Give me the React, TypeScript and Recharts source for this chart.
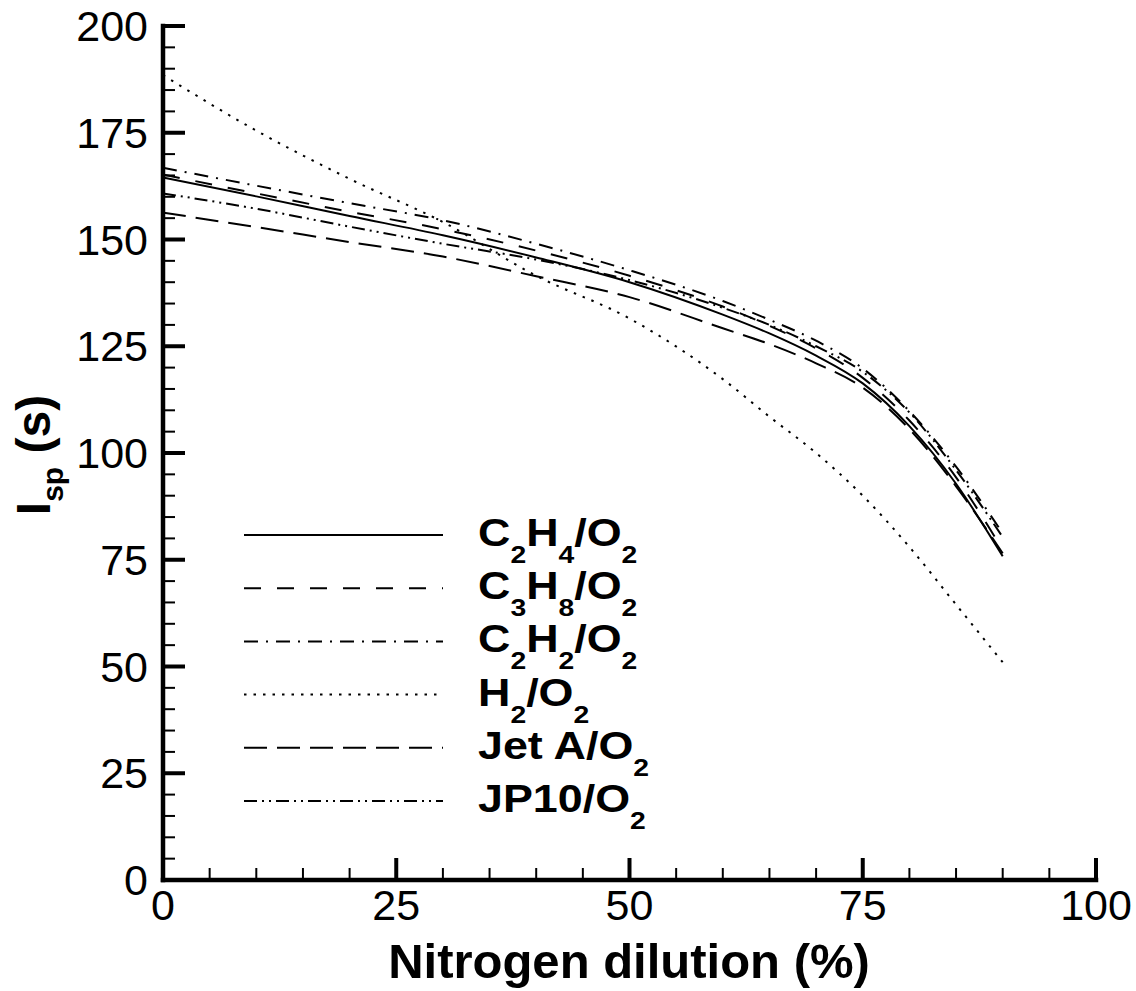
import React from 'react';
import { LineChart, Line, XAxis, YAxis, Customized } from 'recharts';

// nitrogen dilution (%) where the curves were read
const dilution = [0, 10, 20, 30, 40, 50, 60, 65, 70, 75, 80, 85, 90];

// specific impulse (s) per mixture
const c2h4 = [164.5, 160.1, 155.5, 151.0, 145.8, 140.0, 132.4, 128.0, 122.8, 116.3, 106.3, 92.8, 75.8];
const c3h8 = [165.2, 160.8, 156.5, 152.4, 147.4, 141.5, 134.3, 129.8, 124.5, 117.6, 107.6, 94.3, 77.3];
const c2h2 = [166.8, 162.6, 158.5, 154.5, 149.0, 142.8, 135.6, 131.2, 126.3, 119.8, 109.8, 96.8, 81.2];
const h2 = [188.5, 175.5, 164.2, 154.1, 141.5, 131.5, 117.3, 108.5, 100.0, 90.0, 78.0, 64.5, 51.0];
const jetA = [156.3, 152.9, 149.4, 146.0, 141.4, 136.5, 129.2, 125.5, 121.0, 115.3, 105.6, 92.2, 76.5];
const jp10 = [160.8, 157.2, 153.0, 149.0, 145.3, 140.5, 134.0, 130.0, 125.0, 119.0, 109.5, 96.0, 80.3];

const xTicks = [0, 5, 10, 15, 20, 25, 30, 35, 40, 45, 50, 55, 60, 65, 70, 75, 80, 85, 90, 95, 100];
const yTicks = [
  0, 5, 10, 15, 20, 25, 30, 35, 40, 45, 50, 55, 60, 65, 70, 75, 80, 85, 90, 95, 100,
  105, 110, 115, 120, 125, 130, 135, 140, 145, 150, 155, 160, 165, 170, 175, 180, 185, 190, 195, 200,
];

// legend labels, [text, subscript?]
const labels: [string, boolean][][] = [
  [['C', false], ['2', true], ['H', false], ['4', true], ['/O', false], ['2', true]],
  [['C', false], ['3', true], ['H', false], ['8', true], ['/O', false], ['2', true]],
  [['C', false], ['2', true], ['H', false], ['2', true], ['/O', false], ['2', true]],
  [['H', false], ['2', true], ['/O', false], ['2', true]],
  [['Jet A/O', false], ['2', true]],
  [['JP10/O', false], ['2', true]],
];

const series = [
  { key: 'c2h4', values: c2h4, dash: undefined },
  { key: 'c3h8', values: c3h8, dash: '17 16' },
  { key: 'c2h2', values: c2h2, dash: '14 8 2 8' },
  { key: 'h2', values: h2, dash: '2.5 7' },
  { key: 'jetA', values: jetA, dash: '23 10' },
  { key: 'jp10', values: jp10, dash: '13 5 2 5 2 5' },
];

const rows = dilution.map((x, i) => {
  const row: Record<string, number> = { x };
  series.forEach((s) => {
    row[s.key] = s.values[i];
  });
  return row;
});

const FONT = '"Liberation Sans", Arial, Helvetica, sans-serif';
const SUB = 24;
const SUB_DY = 17;

const XTick = (props: any) => {
  const { x, y, payload } = props;
  const major = payload.value % 25 === 0;
  return (
    <g>
      <line x1={x} y1={y} x2={x} y2={y - (major ? 22 : 12)} stroke="#000" strokeWidth={major ? 4 : 2} />
      {major && (
        <text x={x} y={y + 40} textAnchor="middle" fontSize={43} fontFamily={FONT} fill="#000">
          {payload.value}
        </text>
      )}
    </g>
  );
};

const YTick = (props: any) => {
  const { x, y, payload } = props;
  const major = payload.value % 25 === 0;
  return (
    <g>
      <line x1={x} y1={y} x2={x + (major ? 22 : 12)} y2={y} stroke="#000" strokeWidth={major ? 4 : 2} />
      {major && (
        <text x={x - 15} y={y + 15} textAnchor="end" fontSize={43} fontFamily={FONT} fill="#000">
          {payload.value}
        </text>
      )}
    </g>
  );
};

const LegendBox = () => (
  <g>
    {series.map((s, i) => {
      const ly = 535 + i * 53.2;
      return (
        <g key={s.key}>
          <line x1={244} x2={443} y1={ly} y2={ly} stroke="#000" strokeWidth={2} strokeDasharray={s.dash} />
          <g transform={`translate(478, ${ly + 11}) scale(1.18, 1)`}>
            <text x={0} y={0} fontFamily={FONT} fontWeight="bold" fontSize={38} fill="#000">
              {labels[i].map(([t, sub], j) => {
                const prevSub = j > 0 && labels[i][j - 1][1];
                const dy = sub ? SUB_DY : prevSub ? -SUB_DY : 0;
                return (
                  <tspan key={j} fontSize={sub ? SUB : 38} dy={dy}>
                    {t}
                  </tspan>
                );
              })}
            </text>
          </g>
        </g>
      );
    })}
  </g>
);

const AxisTitles = () => (
  <g fontFamily={FONT} fontWeight="bold" fill="#000">
    <text x={629} y={978} textAnchor="middle" fontSize={49}>
      Nitrogen dilution (%)
    </text>
    <g transform="translate(50, 455) rotate(-90)">
      <text x={0} y={0} textAnchor="middle" fontSize={48}>
        I
        <tspan fontSize={30} dy={13}>
          sp
        </tspan>
        <tspan fontSize={48} dy={-13}>
          {' (s)'}
        </tspan>
      </text>
    </g>
  </g>
);

export default function App() {
  return (
    <div style={{ position: 'absolute', left: 0, top: 0, width: 1136, height: 991, background: '#fff' }}>
      <LineChart width={1136} height={991} data={rows} margin={{ top: 26, right: 40, bottom: 81, left: 103 }}>
        <XAxis
          dataKey="x"
          type="number"
          domain={[0, 100]}
          ticks={xTicks}
          interval={0}
          tickSize={0}
          tickMargin={0}
          tickLine={false}
          tick={XTick}
          height={30}
          axisLine={{ stroke: '#000', strokeWidth: 4.5, strokeLinecap: 'square' }}
        />
        <YAxis
          type="number"
          domain={[0, 200]}
          ticks={yTicks}
          interval={0}
          tickSize={0}
          tickMargin={0}
          tickLine={false}
          tick={YTick}
          width={60}
          axisLine={{ stroke: '#000', strokeWidth: 4.5, strokeLinecap: 'square' }}
        />
        {series.map((s) => (
          <Line
            key={s.key}
            type="monotone"
            dataKey={s.key}
            stroke="#000"
            strokeWidth={2}
            strokeDasharray={s.dash}
            dot={false}
            activeDot={false}
            isAnimationActive={false}
          />
        ))}
        <Customized component={LegendBox} />
        <Customized component={AxisTitles} />
      </LineChart>
    </div>
  );
}
